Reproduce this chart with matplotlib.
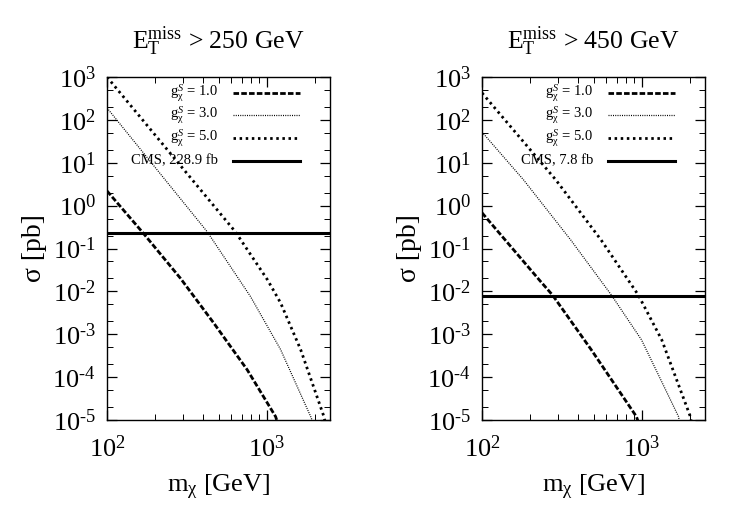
import numpy as np
import matplotlib
matplotlib.use("Agg")
import matplotlib.pyplot as plt
from matplotlib.ticker import LogLocator, FuncFormatter, NullFormatter

plt.rcParams['font.family'] = ['Liberation Serif', 'DejaVu Serif']
plt.rcParams['mathtext.fontset'] = 'custom'
plt.rcParams['mathtext.rm'] = 'Liberation Serif'
plt.rcParams['mathtext.it'] = 'Liberation Serif:italic'
plt.rcParams['mathtext.bf'] = 'Liberation Serif:bold'
plt.rcParams['axes.unicode_minus'] = False

# Values (m in GeV, sigma in pb)
titles = [r"$\mathrm{E_T^{miss}}$ > 250 GeV", r"$\mathrm{E_T^{miss}}$ > 450 GeV"]
cms_labels = ["CMS, 228.9 fb", "CMS, 7.8 fb"]
cms_limits = [0.229, 0.0078]
coupling_labels = [r"$\mathrm{g}_{\mathrm{χ}}^{S}$ = 1.0",
                   r"$\mathrm{g}_{\mathrm{χ}}^{S}$ = 3.0",
                   r"$\mathrm{g}_{\mathrm{χ}}^{S}$ = 5.0"]

# left panel, E_T^miss > 250 GeV
m_g1_250 = [100, 166, 288, 467, 757, 1140, 1170]
s_g1_250 = [2.2, 0.245, 0.0204, 1.82e-3, 1.48e-4, 1.2e-5, 8.9e-6]
m_g3_250 = [100, 425, 793, 1225, 1892, 1950]
s_g3_250 = [190, 0.245, 7.6e-3, 4.4e-4, 1.2e-5, 9e-6]
m_g5_250 = [100, 638, 1014, 1225, 1636, 2290, 2330]
s_g5_250 = [1000, 0.245, 0.0186, 5.4e-3, 4.4e-4, 1.2e-5, 9e-6]

# right panel, E_T^miss > 450 GeV
m_g1_450 = [100, 233, 276, 483, 929, 955]
s_g1_450 = [0.68, 0.017, 8.3e-3, 4.4e-4, 1.2e-5, 8.9e-6]
m_g3_450 = [100, 182, 360, 646, 1000, 1706, 1730]
s_g3_450 = [52, 4.0, 0.158, 8.3e-3, 7.4e-4, 1.2e-5, 9e-6]
m_g5_450 = [100, 290, 558, 953, 1339, 2024, 2050]
s_g5_450 = [425, 4.0, 0.158, 8.3e-3, 7.4e-4, 1.2e-5, 9e-6]

panels = [
    [(m_g1_250, s_g1_250), (m_g3_250, s_g3_250), (m_g5_250, s_g5_250)],
    [(m_g1_450, s_g1_450), (m_g3_450, s_g3_450), (m_g5_450, s_g5_450)],
]

styles = [
    dict(color='black', lw=2.0, dashes=(2.0, 0.8)),
    dict(color='black', lw=0.9, dashes=(0.8, 1.0)),
    dict(color='black', lw=2.0, dashes=(0.9, 1.3)),
]
cms_style = dict(color='black', lw=2.2, linestyle='-')


def pow10(v, pos):
    e = int(round(np.log10(v)))
    s = str(e).replace('-', '\u2010')
    return r"$\mathregular{10^{%s}}$" % s


fig = plt.figure(figsize=(7.5, 5.25), dpi=100)
lefts = [0.1427, 0.6427]

for i in range(2):
    ax = fig.add_axes([lefts[i], 0.2, 0.2973, 0.6533])
    for (m, s), st in zip(panels[i], styles):
        ax.plot(m, s, **st)
    ax.axhline(cms_limits[i], **cms_style)

    ax.set_xscale('log')
    ax.set_yscale('log')
    ax.set_xlim(100, 2500)
    ax.set_ylim(1e-5, 1e3)

    ax.yaxis.set_major_locator(LogLocator(base=10, numticks=20))
    ax.yaxis.set_minor_locator(LogLocator(base=10, subs=(2, 5), numticks=20))
    ax.yaxis.set_major_formatter(FuncFormatter(pow10))
    ax.yaxis.set_minor_formatter(NullFormatter())
    ax.xaxis.set_major_locator(LogLocator(base=10))
    ax.xaxis.set_major_formatter(FuncFormatter(pow10))
    ax.xaxis.set_minor_formatter(NullFormatter())

    ax.tick_params(which='both', direction='in', top=True, right=True, labelsize=19)
    ax.tick_params(which='major', length=7, width=0.9)
    ax.tick_params(axis='x', which='major', pad=11)
    ax.tick_params(axis='y', which='major', pad=8)
    ax.tick_params(which='minor', length=4, width=0.7)
    for sp in ax.spines.values():
        sp.set_linewidth(1.0)

    ax.set_title(titles[i], fontsize=18.5, pad=20)
    ax.set_xlabel(r"$\mathrm{m_{χ}}$ [GeV]", fontsize=19, labelpad=8)
    ax.set_ylabel("σ [pb]", fontsize=20, labelpad=4)

    # gnuplot style key, text right aligned left of the sample lines
    labels = coupling_labels + [cms_labels[i]]
    key_styles = styles + [cms_style]
    rows = [0.953, 0.889, 0.822, 0.755]
    for lab, st, yk in zip(labels, key_styles, rows):
        ax.text(0.498, yk, lab, transform=ax.transAxes, ha='right', va='center', fontsize=10.5)
        ax.plot([0.565, 0.865], [yk, yk], transform=ax.transAxes, **st)

fig.savefig("out.png", dpi=100)
